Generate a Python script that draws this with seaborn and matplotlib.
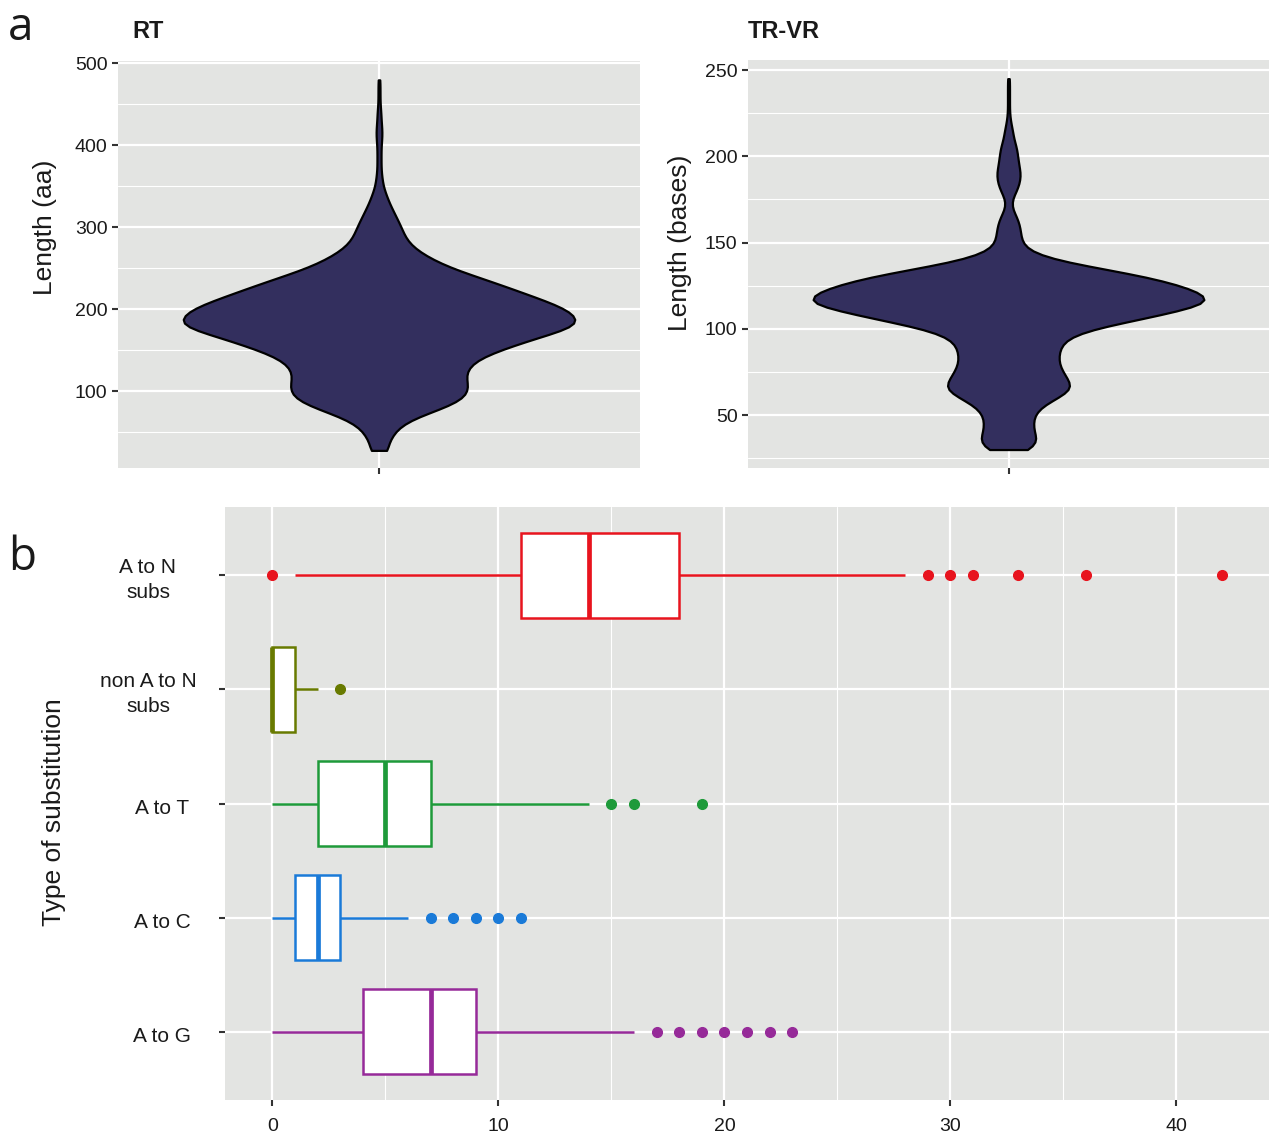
import numpy as np
import matplotlib
matplotlib.use("Agg")
import matplotlib.pyplot as plt
import seaborn as sns
from matplotlib.ticker import MultipleLocator

# panel a: longitudes y conteos aproximados (leidos de la anchura del violin)
rt_len = [28, 40, 50, 60, 70, 80, 90, 100, 110, 120, 130, 140, 150, 160, 170,
          180, 190, 200, 210, 220, 230, 240, 250, 260, 270, 280, 290, 300, 310,
          320, 330, 340, 350, 360, 370, 380, 390, 400, 410, 420, 430, 440, 450,
          460, 470, 480]
rt_n = [11, 11, 15, 23, 40, 64, 82, 88, 87, 85, 88, 98, 118, 142, 168,
        196, 195, 185, 165, 142, 120, 96, 72, 54, 40, 30, 25, 22, 18,
        14, 10, 7, 4, 3, 2, 2, 2, 2, 3, 3, 2, 2, 1,
        1, 1, 1]

trvr_len = [30, 35, 40, 45, 50, 55, 60, 65, 70, 75, 80, 85, 90, 95, 100, 105,
            110, 115, 120, 125, 130, 135, 140, 145, 150, 155, 160, 165, 170,
            175, 180, 185, 190, 195, 200, 205, 210, 215, 220, 225, 230, 235,
            240, 245]
trvr_n = [22, 29, 25, 24, 25, 32, 48, 63, 59, 53, 49, 49, 51, 58, 82, 124,
          163, 198, 192, 169, 137, 90, 44, 20, 13, 12, 11, 8, 3,
          3, 8, 11, 12, 10, 9, 8, 5, 4, 2, 1, 1, 1,
          1, 1]

# panel b: numero de sustituciones por tipo
tipos = ["A to N\nsubs", "non A to N\nsubs", "A to T", "A to C", "A to G"]
colores = ["#E8141E", "#687A00", "#1E9A3A", "#1A7AD8", "#962A99"]
a_n = [0, 1, 3, 5, 7, 8, 9, 10, 11, 12, 12, 12, 13, 13, 13, 13, 14,
       14, 15, 15, 16, 16, 17, 17, 18, 22, 28, 29, 30, 31, 33, 36, 42]
non_a_n = [0, 0, 0, 0, 0, 1, 1, 2, 3]
a_t = [0, 1, 1, 2, 2, 3, 4, 4, 5, 6, 6, 7, 7, 14, 15, 16, 19]
a_c = [0, 0, 0, 1, 1, 1, 1, 1, 1, 2, 2, 2, 2, 2, 2, 3, 3, 3, 3,
       6, 7, 8, 9, 10, 11]
a_g = [0, 1, 2, 2, 3, 3, 3, 4, 4, 4, 5, 5, 6, 6, 6, 7, 7,
       7, 8, 8, 8, 8, 9, 9, 9, 16, 17, 18, 19, 20, 21, 22, 23]
datos_subs = [a_n, non_a_n, a_t, a_c, a_g]

violeta = "#332F5E"
fondo = "#E3E4E2"
texto = "#1A1A1A"

sns.set_theme(style="darkgrid", rc={"axes.facecolor": fondo, "grid.color": "white"})
plt.rcParams["font.family"] = ["Liberation Sans Narrow", "Liberation Sans", "DejaVu Sans"]

W, H = 1269, 1136
fig = plt.figure(figsize=(W / 100, H / 100), dpi=100)


def caja(x0, y0, x1, y1):
    return [x0 / W, 1 - y1 / H, (x1 - x0) / W, (y1 - y0) / H]


ax1 = fig.add_axes(caja(118, 61, 640, 468))
ax2 = fig.add_axes(caja(748, 60, 1269, 468))
ax3 = fig.add_axes(caja(225, 507, 1269, 1100))

# violines
sns.violinplot(y=np.repeat(rt_len, rt_n), ax=ax1, color=violeta, saturation=1,
               cut=0, inner=None, width=0.9, linewidth=1.6, linecolor="black",
               bw_adjust=0.6, density_norm="area")
sns.violinplot(y=np.repeat(trvr_len, trvr_n), ax=ax2, color=violeta, saturation=1,
               cut=0, inner=None, width=0.9, linewidth=1.6, linecolor="black",
               bw_adjust=0.5, density_norm="area")

ax1.set_ylim(6.5, 503)
ax1.set_yticks([100, 200, 300, 400, 500])
ax1.yaxis.set_minor_locator(MultipleLocator(50))
ax2.set_ylim(19.3, 255.8)
ax2.set_yticks([50, 100, 150, 200, 250])
ax2.yaxis.set_minor_locator(MultipleLocator(25))

for ax in (ax1, ax2):
    ax.set_xlim(-0.6, 0.6)
    ax.set_xticks([0])
    ax.set_xticklabels([""])
    ax.set_xlabel("")

# cajas
for tipo, valores, color in zip(tipos, datos_subs, colores):
    sns.boxplot(x=valores, y=[tipo] * len(valores), order=tipos, ax=ax3,
                color="white", saturation=1, linecolor=color, linewidth=1.8,
                width=0.75, showcaps=False, whis=1.5,
                flierprops=dict(marker="o", markerfacecolor=color,
                                markeredgecolor=color, markersize=7),
                medianprops=dict(color=color, linewidth=3.4))

ax3.set_xlim(-2.1, 44.1)
ax3.set_ylim(4.6, -0.6)
ax3.set_xticks([0, 10, 20, 30, 40])
ax3.xaxis.set_minor_locator(MultipleLocator(5))
ax3.set_yticks(range(len(tipos)))
ax3.set_yticklabels([""] * len(tipos))
ax3.set_xlabel("")
for i, tipo in enumerate(tipos):
    xc = -0.0738 if "\n" in tipo else -0.0603
    ax3.text(xc, i + 0.04, tipo, transform=ax3.get_yaxis_transform(),
             ha="center", va="center", multialignment="center",
             fontsize=15, color=texto, linespacing=1.4)

for ax in (ax1, ax2, ax3):
    for s in ax.spines.values():
        s.set_visible(False)
    ax.set_axisbelow(True)
    ax.grid(which="major", color="white", linewidth=1.6)
    ax.grid(which="minor", color="white", linewidth=0.8)
    ax.tick_params(which="major", length=4, width=1.5, color="#333333",
                   labelsize=14, labelcolor=texto, left=True, bottom=True)
    ax.tick_params(axis="y", which="major", pad=3.5)
    ax.tick_params(axis="x", which="major", pad=9)
    ax.tick_params(which="minor", length=0)

ax1.set_ylabel("Length (aa)", fontsize=19, family="Liberation Sans", color=texto)
ax1.yaxis.set_label_coords(-0.117, 0.592)
ax2.set_ylabel("Length (bases)", fontsize=19, family="Liberation Sans", color=texto)
ax2.yaxis.set_label_coords(-0.1075, 0.551)
ax3.set_ylabel("Type of substitution", fontsize=19, family="Liberation Sans", color=texto)
ax3.yaxis.set_label_coords(-0.152, 0.486)

fig.text(132 / W, 1 - 38 / H, "RT", fontsize=17, fontweight="bold", va="baseline", color=texto)
fig.text(748 / W, 1 - 38 / H, "TR-VR", fontsize=17, fontweight="bold", va="baseline", color=texto)
fig.text(8 / W, 1 - 40 / H, "a", fontsize=33, family="Open Sans", va="baseline", color=texto)
fig.text(8 / W, 1 - 570 / H, "b", fontsize=33, family="Open Sans", va="baseline", color=texto)

fig.savefig("out.png", dpi=100)
